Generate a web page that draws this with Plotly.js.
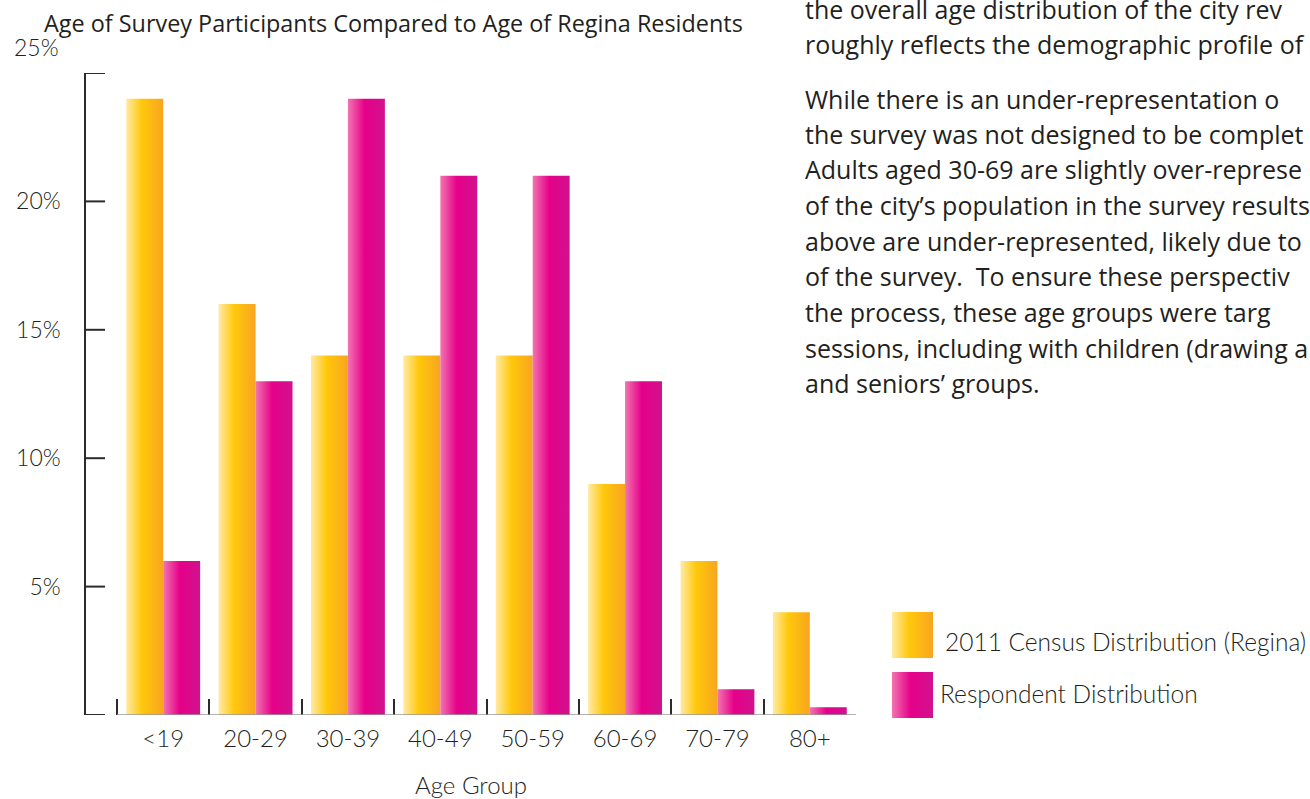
<!DOCTYPE html>
<html>
<head>
<meta charset="utf-8">
<script src="https://cdn.plot.ly/plotly-3.0.1.min.js"></script>
<style>
html,body{margin:0;padding:0;background:#fff;}
#chart{width:1310px;height:799px;}
</style>
</head>
<body>
<div id="chart"></div>
<script>
var categories = ['<19', '20-29', '30-39', '40-49', '50-59', '60-69', '70-79', '80+'];
var censusValues = [24, 16, 14, 14, 14, 9, 6, 4];
var respondentValues = [6, 13, 24, 21, 21, 13, 1, 0.3];
var seriesNames = ['2011 Census Distribution (Regina)', 'Respondent Distribution'];
var yTickVals = [0, 5, 10, 15, 20, 25];
var yTickText = ['', '5%', '10%', '15%', '20%', ''];
var topTickLabel = '25%';
var chartTitle = 'Age of Survey Participants Compared to Age of Regina Residents';
var xTitle = 'Age Group';
var bodyLines = [
  'the overall age distribution of the city rev',
  'roughly reflects the demographic profile of',
  'While there is an under-representation o',
  'the survey was not designed to be complet',
  'Adults aged 30-69 are slightly over-represe',
  'of the city\u2019s population in the survey results',
  'above are under-represented, likely due to',
  'of the survey.  To ensure these perspectiv',
  'the process, these age groups were targ',
  'sessions, including with children (drawing a',
  'and seniors\u2019 groups.'
];
var bodyBaselines = [17, 52, 107, 142, 177, 213, 249, 284, 320, 356, 391];

// pixel helpers for the plot paper (left 86, right 856, top 73, bottom 715)
var L = 86, R = 856, T = 73, B = 715;
function px(x) { return (x - L) / (R - L); }
function py(y) { return (B - y) / (B - T); }
var firstCatLeft = 117;
var catWidth = (R - firstCatLeft) / categories.length;
var PAD = '\u00A0\u00A0\u00A0';

var LIGHT = 'Lato, "Open Sans", sans-serif';
var BODY = '"Open Sans", Lato, sans-serif';
var INK = '#231F20';
var AXIS = '#2b2b2b';

var data = [
  {type: 'bar', x: categories, y: censusValues, name: seriesNames[0],
   marker: {color: '#FFC90E', line: {width: 0}}, hoverinfo: 'none'},
  {type: 'bar', x: categories, y: respondentValues, name: seriesNames[1],
   marker: {color: '#E6008A', line: {width: 0}}, hoverinfo: 'none'}
];

var annotations = [
  {text: chartTitle, xref: 'paper', yref: 'paper', x: px(42), y: py(23), xanchor: 'left', yanchor: 'middle',
   showarrow: false, font: {family: BODY, size: 23.4, color: INK}},
  {text: topTickLabel, xref: 'paper', yref: 'paper', x: px(61), y: py(47), xanchor: 'right', yanchor: 'middle',
   showarrow: false, font: {family: LIGHT, size: 23, color: INK, weight: 300}},
  {text: seriesNames[0], xref: 'paper', yref: 'paper', x: px(943), y: py(641), xanchor: 'left', yanchor: 'middle',
   showarrow: false, font: {family: LIGHT, size: 24.5, color: INK, weight: 300}},
  {text: seriesNames[1], xref: 'paper', yref: 'paper', x: px(938), y: py(693), xanchor: 'left', yanchor: 'middle',
   showarrow: false, font: {family: LIGHT, size: 24.5, color: INK, weight: 300}}
];
bodyLines.forEach(function (t, i) {
  annotations.push({text: t, xref: 'paper', yref: 'paper', x: px(803), y: py(bodyBaselines[i] - 8),
    xanchor: 'left', yanchor: 'middle', showarrow: false,
    font: {family: BODY, size: 25, color: INK}});
});

var shapes = [
  // x axis baseline spanning the category boundaries
  {type: 'line', xref: 'x', yref: 'y', x0: -0.5, x1: categories.length - 0.5, y0: 0, y1: 0,
   line: {color: '#999999', width: 1.6}, layer: 'above'},
  {type: 'rect', xref: 'paper', yref: 'paper', x0: px(892), x1: px(933), y0: py(612), y1: py(658),
   fillcolor: '#FFC90E', line: {width: 0}},
  {type: 'rect', xref: 'paper', yref: 'paper', x0: px(892), x1: px(933), y0: py(672), y1: py(718),
   fillcolor: '#E6008A', line: {width: 0}}
];
// y-axis tick marks pointing into the plot, one per tick value
yTickVals.forEach(function (v) {
  shapes.push({type: 'line', xref: 'paper', yref: 'y', x0: 0, x1: px(105), y0: v, y1: v,
    line: {color: AXIS, width: 2}, layer: 'above'});
});

var layout = {
  width: 1310, height: 799,
  margin: {l: L, r: 1310 - R, t: T, b: 799 - B, pad: 0},
  paper_bgcolor: '#fff', plot_bgcolor: '#fff',
  showlegend: false,
  barmode: 'group', bargap: 0.2, bargroupgap: 0,
  font: {family: LIGHT, color: INK},
  xaxis: {
    type: 'category', range: [-0.5 - (firstCatLeft - L) / catWidth, categories.length - 0.5],
    showline: false,
    ticks: 'inside', tickson: 'boundaries', ticklen: 16, tickwidth: 2, tickcolor: AXIS,
    ticklabelstandoff: 7,
    showgrid: false, zeroline: false,
    tickfont: {family: LIGHT, size: 24, color: INK, weight: 300},
    title: {text: xTitle, font: {family: LIGHT, size: 24, color: INK, weight: 300}, standoff: 30}
  },
  yaxis: {
    range: [0, 25],
    showline: true, linecolor: AXIS, linewidth: 2,
    ticks: '',
    tickvals: yTickVals, ticktext: yTickText.map(function (t) { return t ? t + PAD : t; }),
    showgrid: false, zeroline: false,
    tickfont: {family: LIGHT, size: 23, color: INK, weight: 300}
  },
  annotations: annotations,
  shapes: shapes
};

Plotly.newPlot('chart', data, layout, {staticPlot: true, displayModeBar: false}).then(function (gd) {
  var ns = 'http://www.w3.org/2000/svg';
  var svg = gd.querySelector('svg.main-svg');
  var defs = svg.querySelector('defs');
  if (!defs) { defs = document.createElementNS(ns, 'defs'); svg.insertBefore(defs, svg.firstChild); }
  function grad(id, stops) {
    var lg = document.createElementNS(ns, 'linearGradient');
    lg.setAttribute('id', id);
    lg.setAttribute('x1', '0'); lg.setAttribute('x2', '1');
    lg.setAttribute('y1', '0'); lg.setAttribute('y2', '0');
    stops.forEach(function (s) {
      var st = document.createElementNS(ns, 'stop');
      st.setAttribute('offset', s[0]);
      st.setAttribute('stop-color', s[1]);
      lg.appendChild(st);
    });
    defs.appendChild(lg);
  }
  grad('gCensus', [[0, '#FFEAA6'], [0.42, '#FFC80B'], [1, '#F8A51F']]);
  grad('gResp', [[0, '#F275B0'], [0.45, '#E6008A'], [1, '#D0128D']]);
  var traces = gd.querySelectorAll('.barlayer .trace');
  if (traces[0]) traces[0].querySelectorAll('path').forEach(function (p) { p.style.fill = 'url(#gCensus)'; });
  if (traces[1]) traces[1].querySelectorAll('path').forEach(function (p) { p.style.fill = 'url(#gResp)'; });
  var sp = gd.querySelectorAll('.shapelayer path');
  sp.forEach(function (p) {
    var f = p.style.fill || '';
    if (f.indexOf('255, 201, 14') >= 0 || f.toLowerCase() === '#ffc90e') p.style.fill = 'url(#gCensus)';
    if (f.indexOf('230, 0, 138') >= 0 || f.toLowerCase() === '#e6008a') p.style.fill = 'url(#gResp)';
  });
});
</script>
</body>
</html>
